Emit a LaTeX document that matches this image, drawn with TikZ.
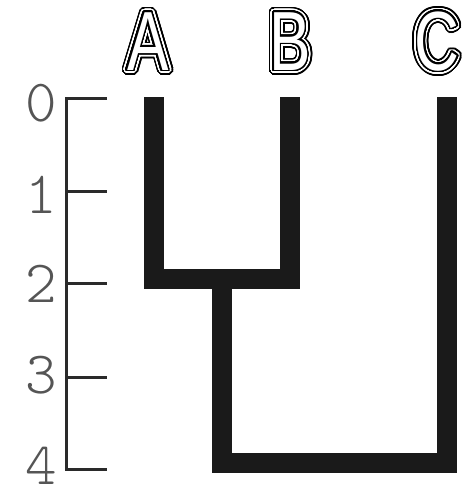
\documentclass[tikz,border=0pt]{standalone}
\usepackage{fontspec}
\usepackage{contour}
\contournumber{48}
\newfontfamily\letterfont[FakeStretch=0.74]{Liberation Sans}
\definecolor{bar}{HTML}{1A1A1A}
\definecolor{axis}{HTML}{2A2A2A}
\definecolor{digit}{HTML}{555555}
\newcommand\outlined[1]{%
  \rlap{\contourlength{5.2pt}\contour{black}{\textcolor{black}{#1}}}%
  \rlap{\contourlength{3.3pt}\contour{white}{\textcolor{white}{#1}}}%
  {\contourlength{1.5pt}\contour{black}{\textcolor{white}{#1}}}}
\tikzset{
  leaf/.style={inner sep=0pt, font=\letterfont\fontsize{84}{84}\selectfont},
  tick label/.style={inner sep=0pt, text=digit, font=\ttfamily\fontseries{l}\fontsize{60}{60}\selectfont},
  branch/.style={draw=bar, line width=20pt, line join=miter, line cap=butt},
  axisline/.style={draw=axis, line width=3pt, line join=miter}
}
\begin{document}
\begin{tikzpicture}[x=1pt,y=-1pt]
\useasboundingbox (0,0) rectangle (465,485);
% leaf labels
\node[leaf] (A) at (148,44) {\outlined{A}};
\node[leaf] (B) at (290,44) {\outlined{B}};
\node[leaf] (C) at (437,44) {\outlined{C}};
% leaf tops
\coordinate (a0) at (154,97);
\coordinate (b0) at (289.5,97);
\coordinate (c0) at (447,97);
\coordinate (ab) at (222,278.5);
\coordinate (abc) at (222,463);
% branches
\draw[branch] (a0) -- (a0 |- ab) -- (b0 |- ab) -- (b0);
\draw[branch] (ab) -- (abc) -- (c0 |- abc) -- (c0);
% axis
\coordinate (t0) at (66,98);
\coordinate (t1) at (66,191);
\coordinate (t2) at (66,283);
\coordinate (t3) at (66,377);
\coordinate (t4) at (66,469);
\draw[axisline] ([xshift=41pt]t0) -- (t0) -- (t4) -- ([xshift=41pt]t4);
\foreach \i in {1,2,3}{
  \draw[axisline] (t\i) -- ([xshift=41pt]t\i);
}
\foreach \i/\dy in {0/5,1/4,2/1,3/-2,4/-3}{
  \node[tick label] (l\i) at ([xshift=-25pt,yshift=-\dy pt]t\i) {\i};
}
\end{tikzpicture}
\end{document}
